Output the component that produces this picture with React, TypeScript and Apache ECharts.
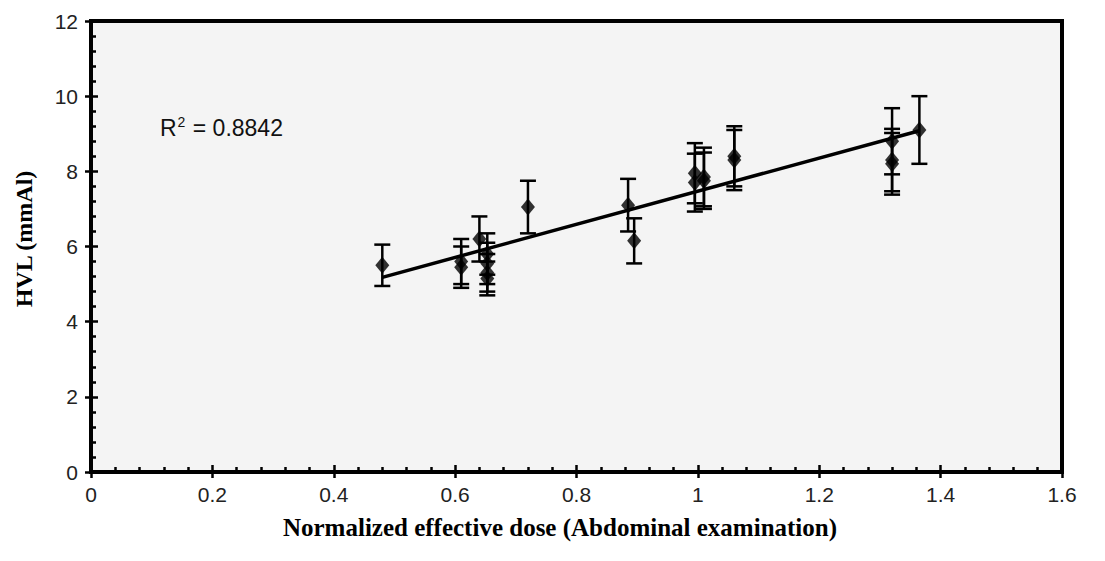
import React, { useEffect, useRef } from "react";
import * as echarts from "echarts";

// ---- data ----
const doseX = [0.48, 0.61, 0.61, 0.64, 0.653, 0.653, 0.653, 0.653, 0.72, 0.885, 0.895, 0.995, 0.995, 1.01, 1.01, 1.06, 1.06, 1.32, 1.32, 1.32, 1.365];
const hvlY = [5.5, 5.6, 5.45, 6.2, 5.8, 5.55, 5.3, 5.15, 7.05, 7.1, 6.15, 7.95, 7.7, 7.85, 7.75, 8.4, 8.3, 8.8, 8.3, 8.2, 9.1];
const hvlErr = [0.55, 0.6, 0.55, 0.6, 0.55, 0.55, 0.5, 0.45, 0.7, 0.7, 0.6, 0.8, 0.77, 0.78, 0.75, 0.8, 0.8, 0.88, 0.83, 0.82, 0.9];
const trendX = [0.48, 1.365];
const trendY = [5.18, 9.08];
const xMin = 0, xMax = 1.6, xStep = 0.2;
const yMin = 0, yMax = 12, yStep = 2;
const rSquaredValue = "0.8842";
const xTitle = "Normalized effective dose (Abdominal examination)";
const yTitle = "HVL (mmAl)";

export default function App() {
  const ref = useRef<HTMLDivElement>(null);
  useEffect(() => {
    document.body.style.margin = "0";
    const chart = echarts.init(ref.current!, null, { renderer: "svg" });
    const points = doseX.map((x, i) => [x, hvlY[i]]);
    const bars = doseX.map((x, i) => [x, hvlY[i] - hvlErr[i], hvlY[i] + hvlErr[i]]);
    const trend = trendX.map((x, i) => [x, trendY[i]]);
    const sans = "'Liberation Sans', Arial, sans-serif";
    const labelFont = { color: "#222", fontSize: 21, fontFamily: sans };
    const black = "#000";
    chart.setOption({
      animation: false,
      backgroundColor: "#fff",
      grid: {
        left: 91, right: 43, top: 21, bottom: 89,
        show: true, backgroundColor: "#f4f4f4", borderColor: black, borderWidth: 4,
      },
      xAxis: [
        {
          type: "value", min: xMin, max: xMax, interval: xStep,
          axisLine: { onZero: false, lineStyle: { color: black, width: 4 } },
          axisTick: { inside: true, length: 7, lineStyle: { color: black, width: 2.5 } },
          minorTick: { show: true, splitNumber: 5, length: 5, lineStyle: { color: black, width: 2.5 } },
          splitLine: { show: false },
          axisLabel: { ...labelFont, margin: 12 },
        },
        {
          type: "value", min: xMin, max: xMax, interval: xStep, position: "bottom",
          axisLine: { show: false },
          axisTick: { inside: false, length: 6, lineStyle: { color: black, width: 2.5 } },
          axisLabel: { show: false }, splitLine: { show: false },
        },
      ],
      yAxis: [
        {
          type: "value", min: yMin, max: yMax, interval: yStep,
          axisLine: { onZero: false, lineStyle: { color: black, width: 4 } },
          axisTick: { inside: true, length: 7, lineStyle: { color: black, width: 2.5 } },
          minorTick: { show: true, splitNumber: 5, length: 5, lineStyle: { color: black, width: 2.5 } },
          splitLine: { show: false },
          axisLabel: { ...labelFont, margin: 13 },
        },
        {
          type: "value", min: yMin, max: yMax, interval: yStep, position: "left",
          axisLine: { show: false },
          axisTick: { inside: false, length: 6, lineStyle: { color: black, width: 2.5 } },
          axisLabel: { show: false }, splitLine: { show: false },
        },
      ],
      series: [
        {
          type: "line", data: trend, showSymbol: false, symbol: "none",
          lineStyle: { color: black, width: 3.5 }, z: 2,
        },
        {
          type: "custom", data: bars, z: 3,
          renderItem: (params: any, api: any) => {
            const x = api.value(0);
            const lo = api.coord([x, api.value(1)]);
            const hi = api.coord([x, api.value(2)]);
            const hw = 8;
            const style = { stroke: black, lineWidth: 2.5 };
            return {
              type: "group",
              children: [
                { type: "line", shape: { x1: lo[0], y1: lo[1], x2: hi[0], y2: hi[1] }, style },
                { type: "line", shape: { x1: lo[0] - hw, y1: lo[1], x2: lo[0] + hw, y2: lo[1] }, style },
                { type: "line", shape: { x1: hi[0] - hw, y1: hi[1], x2: hi[0] + hw, y2: hi[1] }, style },
              ],
            };
          },
        },
        {
          type: "scatter", data: points, symbol: "diamond", symbolSize: [14, 17], z: 4,
          itemStyle: { color: black },
        },
      ],
      graphic: [
        {
          type: "text", x: 160, y: 128,
          style: {
            text: "{a|R}{s|2}{a| = " + rSquaredValue + "}",
            textVerticalAlign: "middle",
            rich: {
              a: { fill: "#111", fontSize: 23, fontFamily: sans, lineHeight: 26 },
              s: { fill: "#111", fontSize: 14, fontFamily: sans, lineHeight: 26, verticalAlign: "top", padding: [0, 1, 10, 1] },
            },
          },
        },
        {
          type: "text", x: 560, y: 527,
          style: { text: xTitle, fill: "#000", font: "bold 25px 'Liberation Serif', 'Times New Roman', serif", textAlign: "center", textVerticalAlign: "middle" },
        },
        {
          type: "text", x: 24, y: 239, rotation: Math.PI / 2,
          style: { text: yTitle, fill: "#000", font: "bold 24px 'Liberation Serif', 'Times New Roman', serif", textAlign: "center", textVerticalAlign: "middle" },
        },
      ],
    });
    return () => chart.dispose();
  }, []);
  return <div ref={ref} style={{ width: 1105, height: 561 }} />;
}
